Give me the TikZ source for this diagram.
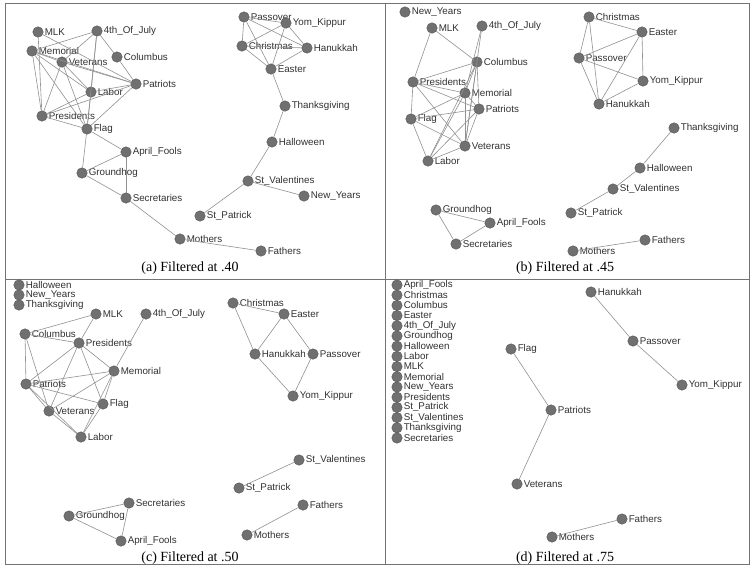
\documentclass[tikz,border=0pt]{standalone}
\usepackage{fontspec}
\setmainfont{Liberation Serif}
\newfontfamily\labfont{Liberation Sans}
\definecolor{nodefill}{RGB}{112,112,112}
\definecolor{nodeline}{RGB}{85,85,85}
\definecolor{edgecol}{RGB}{145,145,145}
\definecolor{textcol}{RGB}{50,50,50}
\definecolor{framecol}{RGB}{115,115,115}
\tikzset{
  hnode/.style={circle, fill=nodefill, draw=nodeline, line width=0.4pt, minimum size=10.5pt, inner sep=0pt},
  hlab/.style={font=\labfont\fontsize{9.8}{10}\selectfont, text=textcol, inner sep=1.1pt},
  hedge/.style={draw=edgecol, line width=0.6pt},
  hframe/.style={draw=framecol, line width=0.9pt},
  hcap/.style={font=\fontsize{14}{16}\selectfont, text=black, inner sep=0pt}
}
\newcommand\hn[4]{\node[hnode,label={[hlab]right:#4}] (#1) at (#2,#3) {};}
\begin{document}
\begin{tikzpicture}[x=1pt,y=-1pt]
\useasboundingbox (0,0) rectangle (751,565);
\fill[white] (0,0) rectangle (751,565);
% frame
\draw[hframe] (5,3) rectangle (749,564);
\draw[hframe] (385,3) -- (385,564);
\draw[hframe] (5,279) -- (749,279);
% ---------- panel (a)
\hn{aMLK}{38}{32}{MLK}
\hn{aFou}{97}{31}{4th\_Of\_July}
\hn{aMem}{32}{51}{Memorial}
\hn{aVet}{62}{62}{Veterans}
\hn{aCol}{117}{57}{Columbus}
\hn{aPat}{136}{84}{Patriots}
\hn{aLab}{91}{92}{Labor}
\hn{aPre}{42}{116}{Presidents}
\hn{aFla}{87}{129}{Flag}
\hn{aApr}{126}{152}{April\_Fools}
\hn{aGro}{82}{173}{Groundhog}
\hn{aSec}{126}{198}{Secretaries}
\hn{aMot}{180}{239}{Mothers}
\hn{aPas}{244}{17}{Passover}
\hn{aYom}{286}{23}{Yom\_Kippur}
\hn{aChr}{242}{46}{Christmas}
\hn{aHan}{307}{48}{Hanukkah}
\hn{aEas}{271}{69}{Easter}
\hn{aTha}{285}{106}{Thanksgiving}
\hn{aHal}{272}{142}{Halloween}
\hn{aStV}{248}{181}{St\_Valentines}
\hn{aNew}{304}{196}{New\_Years}
\hn{aStP}{200}{216}{St\_Patrick}
\hn{aFat}{261}{251}{Fathers}
\foreach \p/\q in {aMLK/aPat, aMLK/aPre, aMem/aPre, aMem/aVet, aMem/aLab, aMem/aFla, aMem/aPat, aMem/aFou,
  aVet/aPre, aVet/aLab, aVet/aPat, aVet/aFla, aVet/aFou, aFou/aCol, aFou/aLab, aFou/aFla, aCol/aPat,
  aLab/aPat, aLab/aPre, aPre/aPat, aPre/aFla, aFla/aPat, aLab/aFla, aFla/aApr, aFla/aGro, aGro/aApr,
  aApr/aSec, aGro/aSec, aSec/aMot, aMot/aFat,
  aPas/aChr, aPas/aEas, aPas/aHan, aPas/aYom, aChr/aYom, aChr/aEas, aChr/aHan, aYom/aHan, aYom/aEas,
  aHan/aEas, aEas/aTha, aTha/aHal, aHal/aStV, aStV/aNew, aStV/aStP}
  \draw[hedge] (\p) -- (\q);
\node[hcap] (capa) at (190,268) {(a) Filtered at .40};
% ---------- panel (b)
\hn{bNew}{405}{12}{New\_Years}
\hn{bMLK}{432}{28}{MLK}
\hn{bFou}{482}{26}{4th\_Of\_July}
\hn{bCol}{477}{62}{Columbus}
\hn{bPre}{413}{82}{Presidents}
\hn{bMem}{465}{93}{Memorial}
\hn{bPat}{479}{109}{Patriots}
\hn{bFla}{411}{119}{Flag}
\hn{bVet}{465}{146}{Veterans}
\hn{bLab}{428}{161}{Labor}
\hn{bGro}{436}{210}{Groundhog}
\hn{bApr}{490}{223}{April\_Fools}
\hn{bSec}{456}{244}{Secretaries}
\hn{bChr}{589}{17}{Christmas}
\hn{bEas}{642}{32}{Easter}
\hn{bPas}{579}{58}{Passover}
\hn{bYom}{643}{81}{Yom\_Kippur}
\hn{bHan}{599}{104}{Hanukkah}
\hn{bTha}{674}{128}{Thanksgiving}
\hn{bHal}{640}{168}{Halloween}
\hn{bStV}{613}{189}{St\_Valentines}
\hn{bStP}{571}{213}{St\_Patrick}
\hn{bMot}{573}{251}{Mothers}
\hn{bFat}{645}{240}{Fathers}
\foreach \p/\q in {bMLK/bCol, bMLK/bPre, bPre/bFla, bFla/bLab, bFou/bMem, bFou/bVet, bCol/bMem, bCol/bVet,
  bCol/bPat, bCol/bLab, bCol/bPre, bMem/bVet, bMem/bPat, bMem/bPre, bMem/bFla, bMem/bLab, bPat/bPre,
  bPat/bFla, bPat/bVet, bPat/bLab, bPre/bVet, bFla/bVet, bLab/bVet,
  bGro/bApr, bGro/bSec, bApr/bSec,
  bChr/bPas, bChr/bEas, bChr/bHan, bPas/bEas, bPas/bYom, bPas/bHan, bEas/bYom, bEas/bHan, bYom/bHan,
  bTha/bHal, bHal/bStV, bStV/bStP, bMot/bFat}
  \draw[hedge] (\p) -- (\q);
\node[hcap] (capb) at (565,268) {(b) Filtered at .45};
% ---------- panel (c)
\hn{cHal}{19}{285}{Halloween}
\hn{cNew}{19}{295}{New\_Years}
\hn{cTha}{19}{305}{Thanksgiving}
\hn{cMLK}{96}{314}{MLK}
\hn{cFou}{146}{314}{4th\_Of\_July}
\hn{cCol}{25}{334}{Columbus}
\hn{cPre}{79}{343}{Presidents}
\hn{cMem}{114}{371}{Memorial}
\hn{cPat}{26}{384}{Patriots}
\hn{cFla}{103}{404}{Flag}
\hn{cVet}{49}{411}{Veterans}
\hn{cLab}{81}{437}{Labor}
\hn{cSec}{129}{503}{Secretaries}
\hn{cGro}{69}{516}{Groundhog}
\hn{cApr}{121}{541}{April\_Fools}
\hn{cChr}{233}{303}{Christmas}
\hn{cEas}{284}{314}{Easter}
\hn{cHan}{255}{354}{Hanukkah}
\hn{cPas}{313}{354}{Passover}
\hn{cYom}{293}{396}{Yom\_Kippur}
\hn{cStV}{299}{460}{St\_Valentines}
\hn{cStP}{239}{488}{St\_Patrick}
\hn{cFat}{303}{505}{Fathers}
\hn{cMot}{247}{535}{Mothers}
\foreach \p/\q in {cMLK/cCol, cMLK/cPre, cFou/cMem, cCol/cPre, cCol/cPat, cCol/cVet, cPre/cPat, cPre/cMem,
  cPre/cFla, cPre/cVet, cMem/cPat, cMem/cVet, cMem/cFla, cMem/cLab, cPat/cFla, cPat/cVet, cPat/cLab,
  cFla/cLab, cVet/cLab,
  cGro/cSec, cGro/cApr, cApr/cSec,
  cChr/cEas, cChr/cHan, cEas/cHan, cEas/cPas, cHan/cYom, cPas/cYom,
  cStV/cStP, cFat/cMot}
  \draw[hedge] (\p) -- (\q);
\node[hcap] (capc) at (190,558) {(c) Filtered at .50};
% ---------- panel (d)
\hn{dApr}{397}{285}{April\_Fools}
\hn{dChr}{397}{295.2}{Christmas}
\hn{dCol}{397}{305.4}{Columbus}
\hn{dEas}{397}{315.6}{Easter}
\hn{dFou}{397}{325.8}{4th\_Of\_July}
\hn{dGro}{397}{336}{Groundhog}
\hn{dHal}{397}{346.2}{Halloween}
\hn{dLab}{397}{356.4}{Labor}
\hn{dMLK}{397}{366.6}{MLK}
\hn{dMem}{397}{376.8}{Memorial}
\hn{dNew}{397}{387}{New\_Years}
\hn{dPre}{397}{397.2}{Presidents}
\hn{dStP}{397}{407.4}{St\_Patrick}
\hn{dStV}{397}{417.6}{St\_Valentines}
\hn{dTha}{397}{427.8}{Thanksgiving}
\hn{dSec}{397}{438}{Secretaries}
\hn{dFla}{511}{349}{Flag}
\hn{dPat}{551}{410}{Patriots}
\hn{dVet}{517}{484}{Veterans}
\hn{dMot}{552}{537}{Mothers}
\hn{dHan}{591}{292}{Hanukkah}
\hn{dPas}{633}{341}{Passover}
\hn{dYom}{682}{385}{Yom\_Kippur}
\hn{dFat}{622}{519}{Fathers}
\foreach \p/\q in {dFla/dPat, dPat/dVet, dHan/dPas, dPas/dYom, dMot/dFat}
  \draw[hedge] (\p) -- (\q);
\node[hcap] (capd) at (565,558) {(d) Filtered at .75};
\end{tikzpicture}
\end{document}
